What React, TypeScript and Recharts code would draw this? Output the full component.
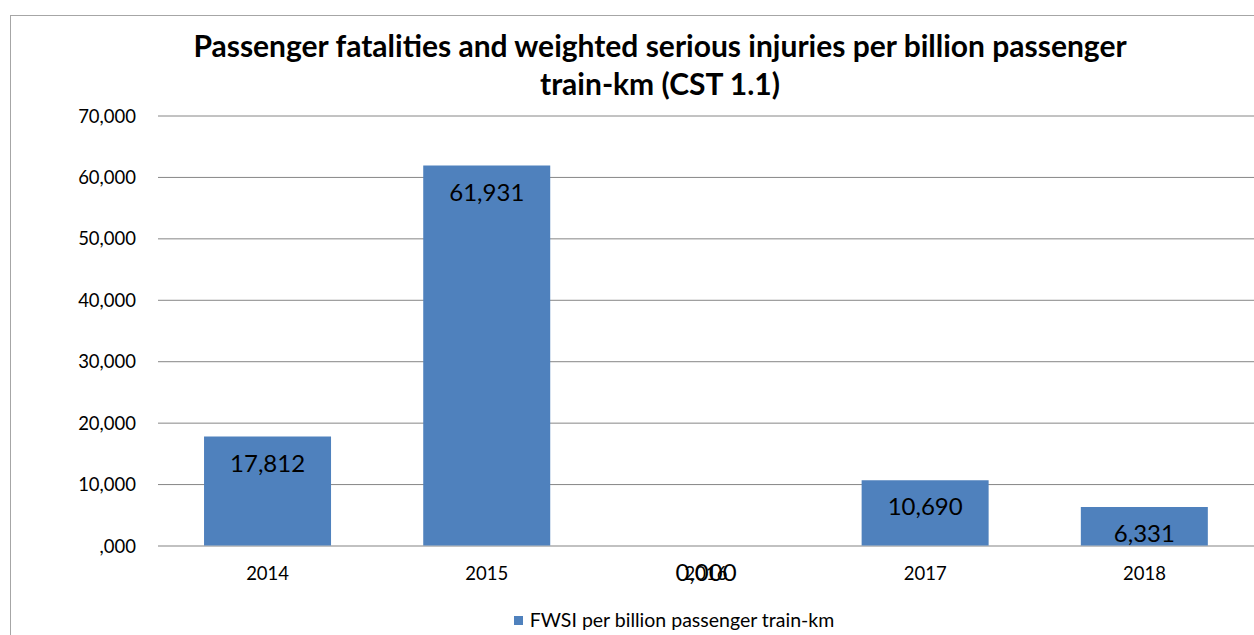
import React from 'react';
import { ComposedChart, Bar, Line, XAxis, YAxis, CartesianGrid, LabelList } from 'recharts';

const YEARS = ['2014', '2015', '2016', '2017', '2018'];
const FWSI = [17.812, 61.931, 0, 10.69, 6.331];
const Y_TICKS = [0, 10, 20, 30, 40, 50, 60, 70];

const data = YEARS.map((year, i) => ({ year, fwsi: FWSI[i] }));

const FONT = 'Lato, "Open Sans", sans-serif';

// European style: comma as decimal separator, three decimals
const fmt = (v: number) => v.toFixed(3).replace('.', ',');
const axisFmt = (v: number) => (v === 0 ? ',000' : fmt(v));

// labels hang on an invisible line so the zero bar (2016) still gets one
const ValueLabel = (props: any) => {
  const { x, y, value } = props;
  return (
    <text x={x} y={y + 29} textAnchor="middle" dominantBaseline="middle" fontSize={24} fill="#000" fontFamily={FONT}>
      {fmt(value)}
    </text>
  );
};

export default function App() {
  return (
    <div style={{ position: 'absolute', left: 0, top: 0, width: 1254, height: 635, background: '#fff', overflow: 'hidden' }}>
      <div style={{ position: 'absolute', left: 10, top: 15, width: 1300, height: 700, border: '1px solid #a6a6a6' }} />
      <div style={{ position: 'absolute', left: 0, top: 26, width: 1320, textAlign: 'center', fontFamily: FONT, fontWeight: 700, fontSize: 30, lineHeight: '38px', color: '#000' }}>
        Passenger fatalities and weighted serious injuries per billion passenger
        <br />
        train-km (CST 1.1)
      </div>
      <div style={{ position: 'absolute', left: 0, top: 0 }}>
        <ComposedChart width={1254} height={635} data={data} margin={{ top: 116, right: 0, bottom: 59, left: 0 }} barCategoryGap="21%">
          <CartesianGrid vertical={false} stroke="#868686" />
          <XAxis dataKey="year" height={30} axisLine={{ stroke: '#bfbfbf' }} tickLine={false} tickSize={0} tickMargin={21}
            tick={{ fontSize: 18.5, fill: '#000', fontFamily: FONT }} />
          <YAxis domain={[0, 70]} ticks={Y_TICKS} width={158} axisLine={false} tickLine={false} tickSize={0} tickMargin={22}
            tickFormatter={axisFmt} tick={{ fontSize: 18.5, fill: '#000', fontFamily: FONT }} />
          <Bar dataKey="fwsi" fill="#4f81bd" isAnimationActive={false} />
          <Line dataKey="fwsi" stroke="none" dot={false} activeDot={false} isAnimationActive={false}>
            <LabelList dataKey="fwsi" content={<ValueLabel />} />
          </Line>
        </ComposedChart>
      </div>
      <div style={{ position: 'absolute', left: 94, top: 608, width: 1160, display: 'flex', alignItems: 'center', justifyContent: 'center', fontFamily: FONT, fontSize: 19.5, lineHeight: '24px', color: '#000' }}>
        <span style={{ width: 9, height: 9, background: '#4f81bd', marginRight: 7, display: 'inline-block' }} />
        FWSI per billion passenger train-km
      </div>
    </div>
  );
}
